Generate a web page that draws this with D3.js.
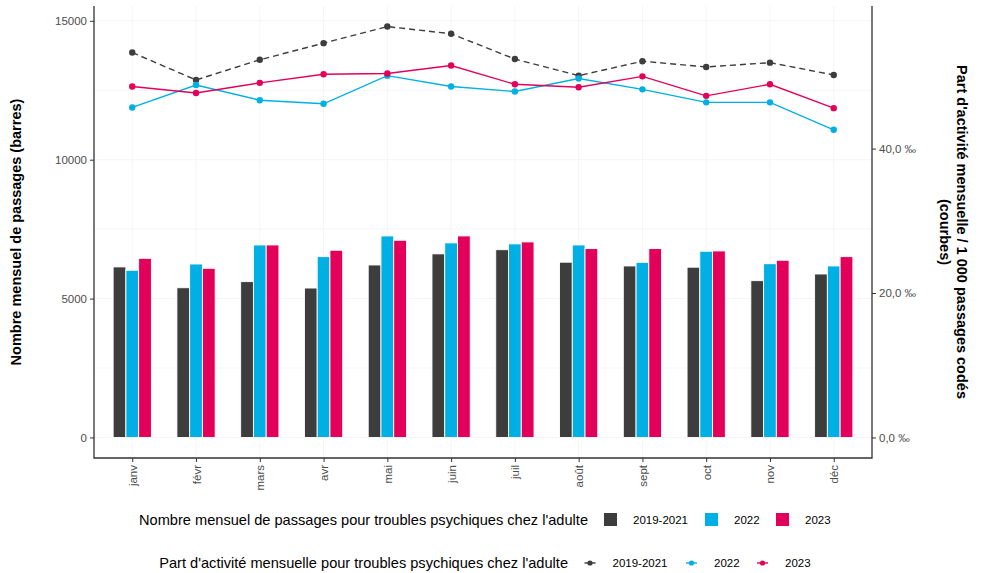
<!DOCTYPE html>
<html>
<head>
<meta charset="utf-8">
<script src="https://cdn.jsdelivr.net/npm/d3@7"></script>
<style>
  body { margin: 0; background: #fff; }
  svg { font-family: "Liberation Sans", Arial, sans-serif; }
</style>
</head>
<body>
<div id="chart"></div>
<script>
// Data
const months = ['janv', 'févr', 'mars', 'avr', 'mai', 'juin', 'juil', 'août', 'sept', 'oct', 'nov', 'déc'];
const series = ['2019-2021', '2022', '2023'];

// monthly visits (bars)
const visits2019_2021 = [6140, 5390, 5610, 5380, 6210, 6610, 6760, 6310, 6175, 6130, 5645, 5885];
const visits2022 = [6020, 6245, 6930, 6510, 7255, 7005, 6970, 6930, 6305, 6705, 6255, 6175];
const visits2023 = [6450, 6090, 6930, 6740, 7100, 7255, 7040, 6800, 6800, 6715, 6380, 6510];

// share per 1 000 coded visits (lines)
const share2019_2021 = [53.3, 49.5, 52.3, 54.6, 56.9, 55.9, 52.4, 50.1, 52.1, 51.3, 51.9, 50.2];
const share2022 = [45.7, 48.8, 46.7, 46.2, 50.1, 48.6, 47.9, 49.7, 48.2, 46.4, 46.4, 42.6];
const share2023 = [48.6, 47.7, 49.1, 50.3, 50.4, 51.5, 48.9, 48.5, 50.0, 47.3, 48.9, 45.6];

const leftTicks = [0, 5000, 10000, 15000];
const rightTicks = [0, 20, 40];
const secFactor = 260; // secondary axis: visits = share * 260

const colors = { '2019-2021': '#3d3d3d', '2022': '#00b0e4', '2023': '#e3005a' };

const barData = series.map((s, j) => ({ key: s, values: [visits2019_2021, visits2022, visits2023][j] }));
const lineData = series.map((s, j) => ({ key: s, values: [share2019_2021, share2022, share2023][j] }));

const W = 983, H = 573;
const m = { left: 94, right: 872, top: 6, bottom: 458 };

const svg = d3.select('#chart').append('svg')
    .attr('width', W)
    .attr('height', H);

const frLocale = d3.formatLocale({ decimal: ',', thousands: '\u00a0', grouping: [3], currency: ['', ' €'] });
const fmtShare = d => frLocale.format('.1f')(d) + ' ‰';

// Scales
const x = d3.scalePoint().domain(months).range([m.left, m.right]).padding(0.6);
const step = x.step();
const xSeries = d3.scaleBand().domain(series).range([-0.3 * step, 0.3 * step]);

const maxVal = d3.max(lineData, s => d3.max(s.values)) * secFactor;
const pad = maxVal * 0.05;
const y = d3.scaleLinear().domain([-pad, maxVal + pad]).range([m.bottom, m.top]);
const yR = d3.scaleLinear().domain([(-pad) / secFactor, (maxVal + pad) / secFactor]).range([m.bottom, m.top]);

// Grid
const grid = svg.append('g').attr('class', 'grid');
const minorTicks = [2500, 7500, 12500];
grid.selectAll('line.h')
    .data(leftTicks.concat(minorTicks))
    .join('line')
    .attr('x1', m.left).attr('x2', m.right)
    .attr('y1', d => y(d)).attr('y2', d => y(d))
    .attr('stroke', '#f3f3f3')
    .attr('stroke-width', 0.8);
grid.selectAll('line.v')
    .data(months)
    .join('line')
    .attr('x1', d => x(d)).attr('x2', d => x(d))
    .attr('y1', m.top).attr('y2', m.bottom)
    .attr('stroke', '#f3f3f3')
    .attr('stroke-width', 0.8);

// Bars
const barG = svg.append('g');
barData.forEach(s => {
    barG.selectAll(null)
        .data(s.values)
        .join('rect')
        .attr('x', (d, i) => x(months[i]) + xSeries(s.key))
        .attr('width', xSeries.bandwidth())
        .attr('y', d => y(d))
        .attr('height', d => y(0) - y(d))
        .attr('fill', colors[s.key])
        .attr('stroke', '#fff')
        .attr('stroke-width', 0.9);
});

// Lines
const line = d3.line()
    .x((d, i) => x(months[i]))
    .y(d => yR(d));

lineData.forEach(s => {
    const g = svg.append('g');
    g.append('path')
        .datum(s.values)
        .attr('d', line)
        .attr('fill', 'none')
        .attr('stroke', colors[s.key])
        .attr('stroke-width', 1.4)
        .attr('stroke-dasharray', s.key === '2019-2021' ? '6,4' : null);
    g.selectAll('circle')
        .data(s.values)
        .join('circle')
        .attr('cx', (d, i) => x(months[i]))
        .attr('cy', d => yR(d))
        .attr('r', 3.2)
        .attr('fill', colors[s.key]);
});

// Axes
const axisColor = '#333';
const tickColor = '#4d4d4d';

const leftAxis = svg.append('g')
    .attr('transform', `translate(${m.left},0)`)
    .call(d3.axisLeft(y).tickValues(leftTicks).tickSize(4).tickPadding(3).tickFormat(d3.format('d')));
const rightAxis = svg.append('g')
    .attr('transform', `translate(${m.right},0)`)
    .call(d3.axisRight(yR).tickValues(rightTicks).tickSize(4).tickPadding(3).tickFormat(fmtShare));
const bottomAxis = svg.append('g')
    .attr('transform', `translate(0,${m.bottom})`)
    .call(d3.axisBottom(x).tickSize(4).tickSizeOuter(0));

[leftAxis, rightAxis, bottomAxis].forEach(a => {
    a.select('.domain').remove();
    a.selectAll('.tick line').attr('stroke', axisColor).attr('stroke-width', 1);
    a.selectAll('.tick text').attr('fill', tickColor).style('font-size', '11.5px')
        .style('font-family', '"Liberation Sans", Arial, sans-serif');
});

bottomAxis.selectAll('.tick text')
    .attr('transform', 'rotate(-90)')
    .attr('text-anchor', 'end')
    .attr('x', -7)
    .attr('y', 0)
    .attr('dy', '0.35em');

// axis lines (left, right, bottom)
svg.append('path')
    .attr('d', `M${m.left},${m.top}V${m.bottom}H${m.right}V${m.top}`)
    .attr('fill', 'none')
    .attr('stroke', axisColor)
    .attr('stroke-width', 1.3);

// Axis titles
const midY = (m.top + m.bottom) / 2;
svg.append('text')
    .attr('transform', `translate(21,${midY}) rotate(-90)`)
    .attr('text-anchor', 'middle')
    .style('font-size', '14.5px')
    .style('font-weight', 'bold')
    .text('Nombre mensuel de passages (barres)');

svg.append('text')
    .attr('transform', `translate(957,${midY}) rotate(90)`)
    .attr('text-anchor', 'middle')
    .style('font-size', '14.5px')
    .style('font-weight', 'bold')
    .text("Part d'activité mensuelle / 1 000 passages codés");
svg.append('text')
    .attr('transform', `translate(940,${midY}) rotate(90)`)
    .attr('text-anchor', 'middle')
    .style('font-size', '14.5px')
    .style('font-weight', 'bold')
    .text('(courbes)');

// Legends
const legBars = svg.append('g').attr('transform', 'translate(0,519.5)');
legBars.append('text')
    .attr('x', 588).attr('dy', '0.35em')
    .attr('text-anchor', 'end')
    .style('font-size', '14.6px')
    .text("Nombre mensuel de passages pour troubles psychiques chez l'adulte");
const barKeyX = [604, 705, 776];
series.forEach((s, j) => {
    legBars.append('rect')
        .attr('x', barKeyX[j]).attr('y', -6.5)
        .attr('width', 13).attr('height', 13)
        .attr('fill', colors[s]);
    legBars.append('text')
        .attr('x', barKeyX[j] + 29).attr('dy', '0.35em')
        .style('font-size', '11.5px')
        .text(s);
});

const legLines = svg.append('g').attr('transform', 'translate(0,563)');
legLines.append('text')
    .attr('x', 568).attr('dy', '0.35em')
    .attr('text-anchor', 'end')
    .style('font-size', '14.6px')
    .text("Part d'activité mensuelle pour troubles psychiques chez l'adulte");
const lineKeyX = [590, 691.5, 762.5];
series.forEach((s, j) => {
    legLines.append('line')
        .attr('x1', lineKeyX[j] - 5.5).attr('x2', lineKeyX[j] + 5.5)
        .attr('stroke', colors[s]).attr('stroke-width', 1.4);
    legLines.append('circle')
        .attr('cx', lineKeyX[j]).attr('r', 2.6)
        .attr('fill', colors[s]);
    legLines.append('text')
        .attr('x', lineKeyX[j] + 22.5).attr('dy', '0.35em')
        .style('font-size', '11.5px')
        .text(s);
});
</script>
</body>
</html>
